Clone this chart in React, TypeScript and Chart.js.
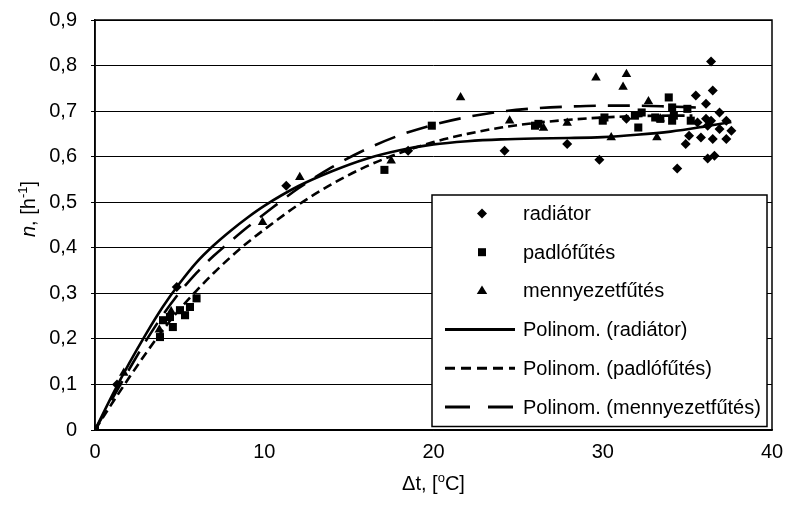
import React, { useEffect, useRef } from 'react';
import { Chart, registerables } from 'chart.js';

Chart.register(...registerables);

// ---------- data ----------
const xTickValues = [0, 10, 20, 30, 40];
const yTickLabels = ['0', '0,1', '0,2', '0,3', '0,4', '0,5', '0,6', '0,7', '0,8', '0,9'];

const seriesNames = [
  'radiátor',
  'padlófűtés',
  'mennyezetfűtés',
  'Polinom. (radiátor)',
  'Polinom. (padlófűtés)',
  'Polinom. (mennyezetfűtés)',
];

const radiatorPoints: [number, number][] = [
  [0, 0], [1.3, 0.1], [4.83, 0.314], [11.3, 0.536], [18.5, 0.613], [24.2, 0.613],
  [27.9, 0.628], [29.8, 0.593], [31.4, 0.683], [34.4, 0.574], [34.9, 0.628],
  [35.1, 0.646], [35.5, 0.734], [35.6, 0.675], [35.8, 0.642], [36.1, 0.716],
  [36.1, 0.683], [36.2, 0.596], [36.2, 0.668], [36.4, 0.809], [36.5, 0.745],
  [36.4, 0.679], [36.5, 0.639], [36.6, 0.602], [36.9, 0.697], [36.9, 0.661],
  [37.3, 0.679], [37.6, 0.657], [37.3, 0.639],
];

const padloPoints: [number, number][] = [
  [0, 0], [3.84, 0.204], [4.02, 0.241], [4.43, 0.248], [4.6, 0.226], [5.02, 0.263],
  [5.32, 0.252], [5.61, 0.27], [6.0, 0.289], [17.1, 0.571], [19.9, 0.668],
  [26.0, 0.668], [26.2, 0.672], [30.0, 0.679], [30.1, 0.686], [31.9, 0.69],
  [32.1, 0.664], [32.3, 0.697], [33.1, 0.686], [33.4, 0.683], [33.9, 0.73],
  [34.1, 0.708], [34.2, 0.69], [34.1, 0.679], [35.0, 0.705], [35.2, 0.679],
];

const mennyezetPoints: [number, number][] = [
  [0, 0], [1.7, 0.125], [3.8, 0.22], [4.5, 0.26], [9.9, 0.456], [12.1, 0.555],
  [17.5, 0.591], [21.6, 0.73], [24.5, 0.679], [26.5, 0.663], [27.9, 0.674],
  [29.6, 0.773], [30.5, 0.642], [31.2, 0.753], [31.4, 0.781], [32.7, 0.721],
  [33.2, 0.642], [33.4, 0.683],
];

// trendlines
const radiatorTrend: [number, number][] = [
  [0, 0], [1, 0.075], [2, 0.145], [3, 0.21], [4, 0.27], [5, 0.322], [6, 0.368],
  [7, 0.405], [8, 0.437], [9, 0.466], [10, 0.492], [12, 0.535], [14, 0.568],
  [16, 0.595], [18, 0.614], [20, 0.627], [22, 0.634], [24, 0.638], [26, 0.64],
  [28, 0.641], [30, 0.643], [32, 0.648], [34, 0.655], [36, 0.666], [37.6, 0.676],
];

const padloTrend: [number, number][] = [
  [0, 0], [1, 0.058], [2, 0.114], [3, 0.168], [4, 0.219], [5, 0.265], [6, 0.306],
  [7, 0.344], [8, 0.379], [9, 0.411], [10, 0.44], [12, 0.494], [14, 0.54],
  [16, 0.578], [18, 0.608], [20, 0.632], [22, 0.65], [24, 0.664], [26, 0.674],
  [28, 0.681], [30, 0.686], [32, 0.689], [34, 0.69], [35.3, 0.69],
];

const mennyezetTrend: [number, number][] = [
  [0, 0], [1, 0.067], [2, 0.132], [3, 0.195], [4, 0.252], [5, 0.302], [6, 0.345],
  [7, 0.382], [8, 0.414], [9, 0.445], [10, 0.474], [12, 0.53], [14, 0.577],
  [16, 0.616], [18, 0.647], [20, 0.67], [22, 0.687], [24, 0.699], [26, 0.706],
  [28, 0.71], [30, 0.712], [32, 0.712], [34, 0.71], [35.5, 0.708],
];

// ---------- styling ----------
const FONT = "'Liberation Sans', Arial, sans-serif";
const SHORT_DASH = [9, 5];
const LONG_DASH = [22, 12];

const toXY = (pts: [number, number][]) => pts.map(([x, y]) => ({ x, y }));

type Seg = { t: string; size: number; italic?: boolean; dy?: number };

function drawSegs(ctx: CanvasRenderingContext2D, segs: Seg[], cx: number, baseline: number) {
  let w = 0;
  for (const s of segs) {
    ctx.font = `${s.italic ? 'italic ' : ''}${s.size}px ${FONT}`;
    w += ctx.measureText(s.t).width;
  }
  let x = cx - w / 2;
  ctx.textAlign = 'left';
  ctx.textBaseline = 'alphabetic';
  for (const s of segs) {
    ctx.font = `${s.italic ? 'italic ' : ''}${s.size}px ${FONT}`;
    ctx.fillText(s.t, x, baseline + (s.dy || 0));
    x += ctx.measureText(s.t).width;
  }
}

function drawMarker(ctx: CanvasRenderingContext2D, kind: string, x: number, y: number) {
  ctx.beginPath();
  if (kind === 'diamond') {
    const r = 5;
    ctx.moveTo(x - r, y); ctx.lineTo(x, y - r); ctx.lineTo(x + r, y); ctx.lineTo(x, y + r);
  } else if (kind === 'square') {
    const h = 4;
    ctx.rect(x - h, y - h, 2 * h, 2 * h);
  } else {
    const r = 5.5;
    ctx.moveTo(x, y - r); ctx.lineTo(x + r * 0.95, y + r * 0.55); ctx.lineTo(x - r * 0.95, y + r * 0.55);
  }
  ctx.closePath();
  ctx.fill();
}

const decorPlugin = {
  id: 'decor',
  afterDraw(chart: any) {
    const ctx: CanvasRenderingContext2D = chart.ctx;
    const a = chart.chartArea;
    ctx.save();
    // plot frame
    ctx.strokeStyle = '#000';
    ctx.lineWidth = 1.5;
    ctx.strokeRect(a.left, a.top, a.right - a.left, a.bottom - a.top);

    // legend box
    const lx = 432, ly = 195, lw = 335, lh = 231.5;
    ctx.fillStyle = '#fff';
    ctx.fillRect(lx, ly, lw, lh);
    ctx.strokeStyle = '#000';
    ctx.lineWidth = 1.5;
    ctx.strokeRect(lx, ly, lw, lh);
    const rowY = (i: number) => 213.5 + i * 38.7;
    const kinds = ['diamond', 'square', 'triangle'];
    const dashes = [[], SHORT_DASH.map((d) => d + 1), [25, 18]];
    ctx.fillStyle = '#000';
    for (let i = 0; i < seriesNames.length; i++) {
      const y = rowY(i);
      if (i < 3) {
        drawMarker(ctx, kinds[i], 482, y);
      } else {
        ctx.save();
        ctx.setLineDash(dashes[i - 3]);
        ctx.lineWidth = 3;
        ctx.beginPath();
        ctx.moveTo(445, y);
        ctx.lineTo(515, y);
        ctx.stroke();
        ctx.restore();
      }
      ctx.font = `20px ${FONT}`;
      ctx.textAlign = 'left';
      ctx.textBaseline = 'middle';
      ctx.fillText(seriesNames[i], 523, y + 1);
    }

    // axis titles
    ctx.fillStyle = '#000';
    drawSegs(ctx, [
      { t: 'Δt, [', size: 20 },
      { t: 'o', size: 13, dy: -8 },
      { t: 'C]', size: 20 },
    ], (a.left + a.right) / 2, 490);

    ctx.save();
    ctx.translate(28, 209);
    ctx.rotate(-Math.PI / 2);
    drawSegs(ctx, [
      { t: 'n', size: 20, italic: true },
      { t: ', [h', size: 20 },
      { t: '-1', size: 13, dy: -8 },
      { t: ']', size: 20 },
    ], 0, 7);
    ctx.restore();
    ctx.restore();
  },
};

export default function App() {
  const ref = useRef<HTMLCanvasElement | null>(null);
  useEffect(() => {
    if (!ref.current) return;
    const markerBase = { showLine: false, borderWidth: 0, backgroundColor: '#000', borderColor: '#000' };
    const lineBase = {
      showLine: true, pointRadius: 0, borderColor: '#000', backgroundColor: '#000',
      borderWidth: 2.6, tension: 0.4, cubicInterpolationMode: 'monotone' as const, fill: false,
    };
    const chart = new Chart(ref.current, {
      type: 'scatter',
      data: {
        datasets: [
          { ...markerBase, label: seriesNames[0], data: toXY(radiatorPoints), pointStyle: 'rectRot', pointRadius: 5 },
          { ...markerBase, label: seriesNames[1], data: toXY(padloPoints), pointStyle: 'rect', pointRadius: 5.7 },
          { ...markerBase, label: seriesNames[2], data: toXY(mennyezetPoints), pointStyle: 'triangle', pointRadius: 5.5 },
          { ...lineBase, label: seriesNames[3], data: toXY(radiatorTrend) },
          { ...lineBase, label: seriesNames[4], data: toXY(padloTrend), borderDash: SHORT_DASH },
          { ...lineBase, label: seriesNames[5], data: toXY(mennyezetTrend), borderDash: LONG_DASH },
        ],
      },
      options: {
        responsive: false,
        animation: false,
        devicePixelRatio: 1,
        layout: { padding: { top: 20, right: 15, left: 0, bottom: 0 } },
        plugins: { legend: { display: false }, tooltip: { enabled: false } },
        scales: {
          x: {
            type: 'linear',
            min: 0,
            max: 40,
            afterBuildTicks: (s: any) => { s.ticks = xTickValues.map((v) => ({ value: v })); },
            afterFit: (s: any) => { s.height = 83; s.paddingLeft = 0; s.paddingRight = 0; },
            grid: { display: false, drawTicks: false, tickLength: 0 },
            border: { display: true, color: '#000', width: 1.5 },
            ticks: { color: '#000', font: { family: FONT, size: 20 }, padding: 10, maxRotation: 0 },
          },
          y: {
            type: 'linear',
            min: 0,
            max: 0.9,
            ticks: {
              stepSize: 0.1,
              color: '#000',
              font: { family: FONT, size: 20 },
              padding: 14,
              callback: (_v: any, i: number) => yTickLabels[i],
            },
            afterFit: (s: any) => { s.width = 95; s.paddingTop = 0; s.paddingBottom = 0; },
            grid: { color: '#000', lineWidth: 1, drawTicks: true, tickLength: 4, tickColor: '#000' },
            border: { display: true, color: '#000', width: 1.5 },
          },
        },
      },
      plugins: [decorPlugin],
    });
    return () => chart.destroy();
  }, []);

  return (
    <div style={{ position: 'absolute', left: 0, top: 0, width: 787, height: 513, background: '#fff' }}>
      <canvas ref={ref} width={787} height={513} style={{ display: 'block' }} />
    </div>
  );
}
